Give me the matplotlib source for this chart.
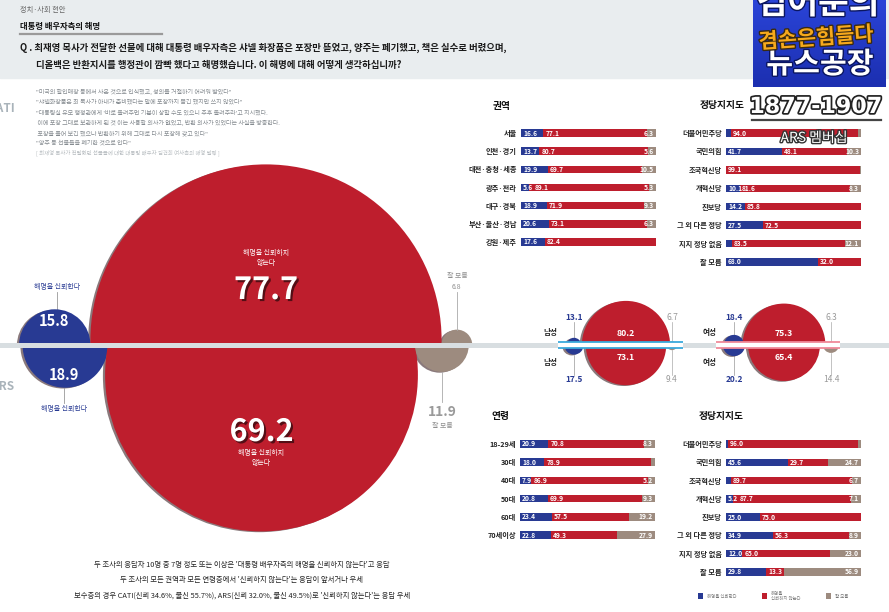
import matplotlib
matplotlib.use('Agg')
import matplotlib.pyplot as plt
from matplotlib.patches import Circle, Rectangle, Polygon
from matplotlib.colors import LinearSegmentedColormap
import matplotlib.patheffects as pe
import numpy as np

plt.rcParams['font.family'] = ['Noto Sans CJK KR', 'DejaVu Sans']

# ---------------- data ----------------
main_labels = ['해명을 신뢰한다', '해명을 신뢰하지 않는다', '잘 모름']
main_cati = [15.8, 77.7, 6.8]
main_ars = [18.9, 69.2, 11.9]

gender_labels = ['남성', '여성']
gender_cati = [[13.1, 80.2, 6.7], [18.4, 75.3, 6.3]]
gender_ars = [[17.5, 73.1, 9.4], [20.2, 65.4, 14.4]]

region_labels = ['서울', '인천·경기', '대전·충청·세종', '광주·전라', '대구·경북', '부산·울산·경남', '강원·제주']
region_trust = [16.6, 13.7, 19.9, 5.6, 18.9, 20.6, 17.6]
region_distrust = [77.1, 80.7, 69.7, 89.1, 71.9, 73.1, 82.4]
region_dk = [6.3, 5.6, 10.5, 5.3, 9.3, 6.3, 0.0]

party_labels = ['더불어민주당', '국민의힘', '조국혁신당', '개혁신당', '진보당', '그 외 다른 정당', '지지 정당 없음', '잘 모름']
party_cati_trust = [3.5, 41.7, 0.0, 10.1, 14.2, 27.5, 4.4, 68.0]
party_cati_distrust = [94.0, 48.1, 99.1, 81.6, 85.8, 72.5, 83.5, 32.0]
party_cati_dk = [2.5, 10.3, 0.9, 8.3, 0.0, 0.0, 12.1, 0.0]

age_labels = ['18-29세', '30대', '40대', '50대', '60대', '70세이상']
age_trust = [20.9, 18.0, 7.9, 20.8, 23.4, 22.8]
age_distrust = [70.8, 78.9, 86.9, 69.9, 57.5, 49.3]
age_dk = [8.3, 3.1, 5.2, 9.3, 19.2, 27.9]

party_ars_trust = [1.5, 45.6, 3.6, 5.2, 25.0, 34.9, 12.0, 29.8]
party_ars_distrust = [96.0, 29.7, 89.7, 87.7, 75.0, 56.3, 65.0, 13.3]
party_ars_dk = [2.5, 24.7, 6.7, 7.1, 0.0, 8.9, 23.0, 56.9]

question = ['Q . 최재영 목사가 전달한 선물에 대해 대통령 배우자측은 샤넬 화장품은 포장만 뜯었고, 양주는 폐기했고, 책은 실수로 버렸으며,',
            '디올백은 반환지시를 행정관이 깜빡 했다고 해명했습니다. 이 해명에 대해 어떻게 생각하십니까?']
quotes = ['"미국의 할인매장 등에서 사온 것으로 인식했고, 성의를 거절하기 어려워 받았다"',
          '"샤넬화장품은 최 목사가 아내가 준비했다는 말에 포장까지 뜯긴 했지만 쓰지 않았다"',
          '"대통령실 유모 행정관에게 \'바로 돌려주면 기분이 상할 수도 있으니 추후 돌려주라\'고 지시했다.',
          ' 이에 포장 그대로 보관하게 된 것 이는 사용할 의사가 없었고, 반환 의사가 있었다는 사실을 방증한다.',
          ' 포장을 풀어 보긴 했으나 반환하기 위해 그대로 다시 포장해 갖고 있다"',
          '"양주 등 선물들을 폐기한 것으로 안다"']
quote_src = '[ 최재영 목사가 전달했던 선물들에 대한 대통령 배우자 김건희 여사측의 해명 발췌 ]'
summary = ["두 조사의 응답자 10명 중 7명 정도 또는 이상은 '대통령 배우자측의 해명을 신뢰하지 않는다'고 응답",
           "두 조사의 모든 권역과 모든 연령층에서 '신뢰하지 않는다'는 응답이 앞서거나 우세",
           "보수층의 경우 CATI(신뢰 34.6%, 불신 55.7%), ARS(신뢰 32.0%, 불신 49.5%)로 '신뢰하지 않는다'는 응답 우세"]

# ---------------- style ----------------
BLUE = '#283a93'
RED = '#be1e2d'
GRAY = '#9d8b7f'
LGRAY = '#8e8e8e'

W, H = 889, 612
fig = plt.figure(figsize=(W / 100, H / 100), dpi=100)
ax = fig.add_axes([0, 0, 1, 1])
ax.set_xlim(0, W)
ax.set_ylim(H, 0)
ax.axis('off')

# header band
ax.add_patch(Rectangle((0, 0), W, 78, color='#e9edef', zorder=0))
ax.text(20, 10, '정치·사회 현안', fontsize=5.2, color='#666666', va='center')
ax.text(20, 27, '대통령 배우자측의 해명', fontsize=6, fontweight='bold', color='#111111', va='center')
ax.plot([20, 162], [34, 34], color='#9a9a9a', lw=1.6)
ax.text(20, 48, question[0], fontsize=6.75, color='#1a1a1a', va='center', fontweight='bold')
ax.text(36, 65, question[1], fontsize=6.75, color='#1a1a1a', va='center', fontweight='bold')

# quotes
qy = [92, 102, 112.5, 123, 133, 143]
for y, q in zip(qy, quotes):
    ax.text(36, y, q, fontsize=4.35, color='#858b90', va='center', zorder=6)
ax.text(36, 153, quote_src, fontsize=3.9, color='#b8bdc1', va='center', zorder=6)

ax.text(15, 108, 'CATI', fontsize=8.5, fontweight='bold', color='#a9b3ba', ha='right', va='center')
ax.text(14, 386, 'ARS', fontsize=8.5, fontweight='bold', color='#a9b3ba', ha='right', va='center')

LINE_Y = 345.0


def half_circle(axis, cx, cy, r, color, upper, shadow=True, z=2):
    if upper:
        pts = [(0, 0), (W, 0), (W, LINE_Y), (0, LINE_Y)]
    else:
        pts = [(0, LINE_Y), (W, LINE_Y), (W, H), (0, H)]
    clip = Polygon(pts, closed=True, transform=axis.transData)
    pats = []
    if shadow:
        pats.append(Circle((cx - 2.2, cy + 0.8), r, color='#2a0c10', alpha=0.55, zorder=z, lw=0))
    pats.append(Circle((cx, cy), r, color=color, zorder=z + 0.1, lw=0))
    for p in pats:
        axis.add_patch(p)
        p.set_clip_path(clip)


# ---------------- main circles (radius proportional to value) ----------------
K = 2.26
RCX_UP, RCX_LO = 266, 261.5
OFF_UP, OFF_LO = 5, 30
rb_u, rr_u, rg_u = (K * v for v in main_cati)
rb_l, rr_l, rg_l = (K * v for v in main_ars)
chord_u = np.sqrt(rr_u ** 2 - OFF_UP ** 2)
chord_l = np.sqrt(rr_l ** 2 - OFF_LO ** 2)
bcx_u = RCX_UP - chord_u - rb_u
gcx_u = RCX_UP + chord_u + rg_u
bcx_l = RCX_LO - chord_l - rb_l
gcx_l = RCX_LO + chord_l + rg_l

half_circle(ax, bcx_u, LINE_Y, rb_u, BLUE, True)
half_circle(ax, RCX_UP, LINE_Y - OFF_UP, rr_u, RED, True)
half_circle(ax, gcx_u, LINE_Y, rg_u, GRAY, True)
half_circle(ax, bcx_l, LINE_Y, rb_l, BLUE, False)
half_circle(ax, RCX_LO, LINE_Y + OFF_LO, rr_l, RED, False)
half_circle(ax, gcx_l, LINE_Y, rg_l, GRAY, False)

big_fx = [pe.withSimplePatchShadow(offset=(1.5, -1.5), shadow_rgbFace='#3a0a10', alpha=0.8)]
ax.text(RCX_UP, 258, '해명을 신뢰하지\n않는다', fontsize=5, color='white', ha='center', va='center', linespacing=1.3, zorder=5)
ax.text(RCX_UP, 290, f'{main_cati[1]:.1f}', fontsize=22, fontweight='bold', color='white', ha='center', va='center',
        path_effects=big_fx, zorder=5)
ax.text(RCX_LO, 432, f'{main_ars[1]:.1f}', fontsize=22, fontweight='bold', color='white', ha='center', va='center',
        path_effects=big_fx, zorder=5)
ax.text(RCX_LO, 458, '해명을 신뢰하지\n않는다', fontsize=5, color='white', ha='center', va='center', linespacing=1.3, zorder=5)

ax.text(bcx_u - 1, 321, f'{main_cati[0]:.1f}', fontsize=10.5, fontweight='bold', color='white', ha='center', va='center', zorder=5)
ax.text(bcx_l - 1, 375, f'{main_ars[0]:.1f}', fontsize=10.5, fontweight='bold', color='white', ha='center', va='center', zorder=5)
ax.text(bcx_u + 2, 287, main_labels[0], fontsize=5, color=BLUE, ha='center', va='center', zorder=6)
ax.plot([bcx_u + 2, bcx_u + 2], [292, LINE_Y - rb_u], color='#999999', lw=0.6)
ax.text(bcx_l - 1, 409, main_labels[0], fontsize=5, color=BLUE, ha='center', va='center', zorder=6)
ax.plot([bcx_l - 1, bcx_l - 1], [LINE_Y + rb_l, 403], color='#999999', lw=0.6)

ax.text(gcx_u, 276, main_labels[2], fontsize=5, color=LGRAY, ha='center', va='center', zorder=6)
ax.text(gcx_u, 287, f'{main_cati[2]:.1f}', fontsize=5, color=LGRAY, ha='center', va='center', zorder=6)
ax.plot([gcx_u, gcx_u], [292, LINE_Y - rg_u], color='#aaaaaa', lw=0.6, zorder=6)
ax.text(gcx_l, 412, f'{main_ars[2]:.1f}', fontsize=10, fontweight='bold', color='#9a9a9a', ha='center', va='center', zorder=6)
ax.text(gcx_l, 426, main_labels[2], fontsize=5, color=LGRAY, ha='center', va='center', zorder=6)
ax.plot([gcx_l, gcx_l], [LINE_Y + rg_l, 402], color='#aaaaaa', lw=0.6, zorder=6)

# ---------------- gender circles ----------------
KG = 0.55
gx = [(574, 626, 672), (734, 784, 831)]
band_col = ['#3aa9dc', '#f08a9a']
band_x = [(558, 683), (716, 840)]
for g in range(2):
    bx, rx, grx = gx[g]
    for upper, vals in ((True, gender_cati[g]), (False, gender_ars[g])):
        half_circle(ax, bx, LINE_Y, KG * vals[0], BLUE, upper, z=3)
        half_circle(ax, rx, LINE_Y, KG * vals[1], RED, upper, z=3)
        half_circle(ax, grx, LINE_Y, KG * vals[2], GRAY, upper, shadow=False, z=3)
    cv, av = gender_cati[g], gender_ars[g]
    ax.text(bx, 318, f'{cv[0]:.1f}', fontsize=6, fontweight='bold', color=BLUE, ha='center', va='center')
    ax.plot([bx, bx], [322, LINE_Y - KG * cv[0]], color='#999999', lw=0.5)
    ax.text(bx, 380, f'{av[0]:.1f}', fontsize=6, fontweight='bold', color=BLUE, ha='center', va='center')
    ax.plot([bx, bx], [LINE_Y + KG * av[0], 375], color='#999999', lw=0.5)
    ax.text(rx, 334, f'{cv[1]:.1f}', fontsize=6.3, fontweight='bold', color='white', ha='center', va='center', zorder=6)
    ax.text(rx, 357, f'{av[1]:.1f}', fontsize=6.3, fontweight='bold', color='white', ha='center', va='center', zorder=6)
    ax.text(grx, 318, f'{cv[2]:.1f}', fontsize=6, color='#999999', ha='center', va='center')
    ax.plot([grx, grx], [322, LINE_Y - KG * cv[2]], color='#aaaaaa', lw=0.5)
    ax.text(grx, 380, f'{av[2]:.1f}', fontsize=6, color='#999999', ha='center', va='center')
    ax.plot([grx, grx], [LINE_Y + KG * av[2], 375], color='#aaaaaa', lw=0.5)
    lx = bx - 24
    ax.text(lx, 332, gender_labels[g], fontsize=5.5, fontweight='bold', color='#222222', ha='center', va='center')
    ax.text(lx, 362, gender_labels[g], fontsize=5.5, fontweight='bold', color='#222222', ha='center', va='center')

# horizontal divider
ax.add_patch(Rectangle((0, LINE_Y - 2.5), W, 5, color='#d8dee1', zorder=7, lw=0))
for g in range(2):
    x0, x1 = band_x[g]
    ax.add_patch(Rectangle((x0, LINE_Y - 3.3), x1 - x0, 6.6, color='white', zorder=7.5, lw=0))
    ax.plot([x0, x1], [LINE_Y - 3.3, LINE_Y - 3.3], color=band_col[g], lw=1.3, zorder=8, solid_capstyle='butt')
    ax.plot([x0, x1], [LINE_Y + 3.3, LINE_Y + 3.3], color=band_col[g], lw=1.3, zorder=8, solid_capstyle='butt')

# ---------------- summary text ----------------
for y, s in zip([565, 580, 596], summary):
    ax.text(242, y, s, fontsize=5.3, color='#222222', ha='center', va='center')

# ---------------- bar panels ----------------
def bar_panel(x0, x1, y_first, y_last, labels, t, d, k):
    n = len(labels)
    pitch = (y_last - y_first) / (n - 1)
    top = y_first - pitch / 2
    bot = y_last + pitch / 2
    bax = fig.add_axes([x0 / W, 1 - bot / H, (x1 - x0) / W, (bot - top) / H])
    y = np.arange(n)
    t = np.array(t); d = np.array(d); k = np.array(k)
    h = 7.5 / pitch
    bax.barh(y, t, height=h, color=BLUE, lw=0)
    bax.barh(y, d, left=t, height=h, color=RED, lw=0)
    bax.barh(y, k, left=t + d, height=h, color=GRAY, lw=0)
    bax.set_xlim(0, 100)
    bax.set_ylim(n - 0.5, -0.5)
    bax.set_yticks(y, labels, fontsize=5.2, fontweight='bold', color='#222222')
    bax.tick_params(length=0, pad=3)
    bax.set_xticks([])
    for s in bax.spines.values():
        s.set_visible(False)
    bax.patch.set_alpha(0)
    for i in range(n):
        red_x = t[i] + 1.5
        if t[i] >= 5:
            bax.text(1.5, i, f'{t[i]:.1f}', fontsize=4.8, fontweight='bold', color='white', va='center', ha='left')
            red_x = max(red_x, 10.5)
        if d[i] >= 5:
            bax.text(red_x, i, f'{d[i]:.1f}', fontsize=4.8, fontweight='bold', color='white', va='center', ha='left')
        if k[i] >= 5:
            bax.text(98.5, i, f'{k[i]:.1f}', fontsize=4.8, fontweight='bold', color='white', va='center', ha='right')
    return bax


bar_panel(521, 656, 133, 242, region_labels, region_trust, region_distrust, region_dk)
bar_panel(726, 861, 133, 262, party_labels, party_cati_trust, party_cati_distrust, party_cati_dk)
bar_panel(520, 655, 444, 535, age_labels, age_trust, age_distrust, age_dk)
bar_panel(726, 861, 444, 572, party_labels, party_ars_trust, party_ars_distrust, party_ars_dk)

ax.text(493, 106, '권역', fontsize=7, fontweight='bold', color='#111111', va='center')
ax.text(700, 105, '정당지지도', fontsize=7, fontweight='bold', color='#111111', va='center')
ax.text(492, 416, '연령', fontsize=7, fontweight='bold', color='#111111', va='center')
ax.text(699, 416, '정당지지도', fontsize=7, fontweight='bold', color='#111111', va='center')

# legend
leg = [(698, BLUE, '해명을 신뢰한다'), (762, RED, '해명을\n신뢰하지 않는다'), (826, GRAY, '잘 모름')]
for x, c, s in leg:
    ax.add_patch(Rectangle((x, 593), 5, 6, color=c, lw=0))
    ax.text(x + 9, 596, s, fontsize=3.2, color='#777777', va='center', linespacing=1.1)

# ---------------- broadcast overlay ----------------
ov = fig.add_axes([0, 0, 1, 1], zorder=10)
ov.set_xlim(0, W)
ov.set_ylim(H, 0)
ov.axis('off')
ov.patch.set_alpha(0)
grad = np.linspace(0, 1, 100).reshape(-1, 1)
cmap = LinearSegmentedColormap.from_list('bl', ['#2a44d8', '#1c2fb0'])
ov.imshow(grad, extent=[753, 886, 87, 0], cmap=cmap, aspect='auto', zorder=1)
ov.set_xlim(0, W)
ov.set_ylim(H, 0)
stroke = [pe.withStroke(linewidth=2, foreground='#0b1660')]
ov.text(818, 4, '김어준의', fontsize=24, fontweight='bold', color='white', ha='center', va='center',
        style='italic', path_effects=stroke, zorder=3)
ov.text(816, 38, '겸손은힘들다', fontsize=15, fontweight='bold', color='#f6a91c', ha='center', va='center',
        rotation=4, path_effects=[pe.withStroke(linewidth=2, foreground='#3a2a10')], zorder=4)
ov.text(820, 64, '뉴스공장', fontsize=21, fontweight='bold', color='white', ha='center', va='center',
        path_effects=stroke, zorder=3)
ov.text(816, 107, '1877-1907', fontsize=16, fontweight='bold', color='white', ha='center', va='center',
        family='DejaVu Sans', path_effects=[pe.withStroke(linewidth=2.5, foreground='#222222')], zorder=3)
ov.plot([752, 881], [120, 120], color='#444444', lw=1.6, zorder=3)
ov.text(814, 138, 'ARS 멤버십', fontsize=10, color='white', ha='center', va='center',
        path_effects=[pe.withStroke(linewidth=2, foreground='#333333')], zorder=3)

fig.savefig('out.png', dpi=100)
